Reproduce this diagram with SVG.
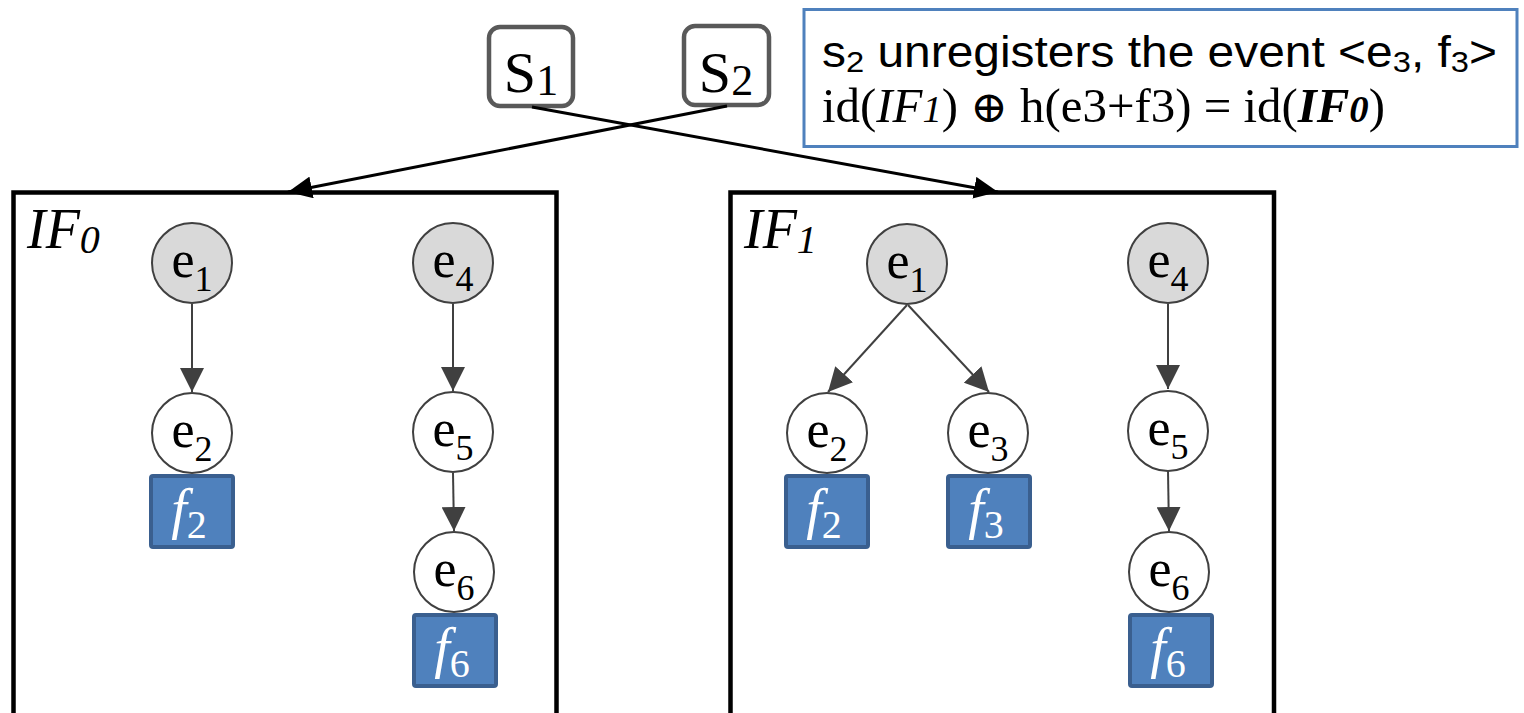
<svg xmlns="http://www.w3.org/2000/svg" width="1524" height="713" viewBox="0 0 1524 713">
<style>
.frame{fill:none;stroke:#000;stroke-width:4.5}
.sbox{fill:#fff;stroke:#595959;stroke-width:4.5}
.ev{stroke:#404040;stroke-width:2}
.g{fill:#d9d9d9}
.w{fill:#fff}
.fb{fill:#4f81bd;stroke:#3a5f8f;stroke-width:4}
.et{font-family:"Liberation Serif","Times New Roman",serif;font-size:52px;fill:#000;text-anchor:middle}
.sub{font-size:36px}
.ft{font-family:"Liberation Serif","Times New Roman",serif;font-size:56px;fill:#fff;text-anchor:middle}
.ft .f{font-style:italic}
.ft .n{font-size:40px}
.lbl{font-family:"Liberation Serif","Times New Roman",serif;font-size:56px;font-style:italic;fill:#000}
.st{font-family:"Liberation Serif","Times New Roman",serif;font-size:58px;fill:#000;text-anchor:middle}
.c1{stroke:#000;stroke-width:3;fill:none}
.c2{stroke:#404040;stroke-width:2;fill:none}
</style>
<defs>
<marker id="ab" markerUnits="userSpaceOnUse" markerWidth="26" markerHeight="22" refX="24" refY="11" orient="auto"><path d="M0,0 L24,11 L0,22 z" fill="#000"/></marker>
<marker id="ag" markerUnits="userSpaceOnUse" markerWidth="26" markerHeight="24" refX="24" refY="12" orient="auto"><path d="M0,0 L24,12 L0,24 z" fill="#404040"/></marker>
</defs>

<g id="IF0">
<path class="frame" d="M13.5,720 V192.5 H556.5 V720"/>
<text class="lbl" x="27" y="248">IF<tspan font-size="40px" dy="5">0</tspan></text>
</g>
<g id="IF1">
<path class="frame" d="M730.5,720 V192.5 H1274 V720"/>
<text class="lbl" x="744" y="248">IF<tspan font-size="40px" dy="5">1</tspan></text>
</g>

<g id="note">
<rect x="804" y="9.5" width="713" height="137" fill="#fff" stroke="#4f81bd" stroke-width="3"/>
<text x="822" y="67" font-family="'Liberation Sans',Arial,sans-serif" font-size="44px" textLength="675" lengthAdjust="spacingAndGlyphs">s<tspan font-size="30px" dy="5">2</tspan><tspan dy="-5"> unregisters the event &lt;e</tspan><tspan font-size="30px" dy="5">3</tspan><tspan dy="-5">, f</tspan><tspan font-size="30px" dy="5">3</tspan><tspan dy="-5">&gt;</tspan></text>
<text x="822" y="122" font-family="'Liberation Serif','DejaVu Serif',serif" font-size="48px" textLength="563" lengthAdjust="spacingAndGlyphs">id(<tspan font-style="italic">IF</tspan><tspan font-style="italic" font-size="38px">1</tspan>) <tspan font-family="'DejaVu Serif',serif" font-size="44px">⊕</tspan> h(e3+f3) = id(<tspan font-style="italic" font-weight="bold">IF</tspan><tspan font-style="italic" font-weight="bold" font-size="38px">0</tspan>)</text>
</g>

<g id="S1">
<rect class="sbox" x="489" y="27" width="84" height="79" rx="11"/>
<text class="st" x="531" y="92">S<tspan font-size="44px" dy="3">1</tspan></text>
</g>
<g id="S2">
<rect class="sbox" x="684" y="26" width="85" height="79" rx="11"/>
<text class="st" x="726" y="92">S<tspan font-size="44px" dy="3">2</tspan></text>
</g>

<g id="connectors">
<line class="c1" x1="532" y1="107" x2="998" y2="192" marker-end="url(#ab)"/>
<line class="c1" x1="727" y1="106" x2="288" y2="192" marker-end="url(#ab)"/>
<line class="c2" x1="192" y1="304" x2="192" y2="392" marker-end="url(#ag)"/>
<line class="c2" x1="453" y1="304" x2="453" y2="391" marker-end="url(#ag)"/>
<line class="c2" x1="453" y1="473" x2="454" y2="531" marker-end="url(#ag)"/>
<line class="c2" x1="907" y1="305" x2="828" y2="392" marker-end="url(#ag)"/>
<line class="c2" x1="908" y1="305" x2="989" y2="392" marker-end="url(#ag)"/>
<line class="c2" x1="1168" y1="304" x2="1168" y2="389" marker-end="url(#ag)"/>
<line class="c2" x1="1168" y1="471" x2="1169" y2="531" marker-end="url(#ag)"/>
</g>

<g id="IF0-e1"><circle class="ev g" cx="192" cy="263" r="40"/><text class="et" x="192" y="277">e<tspan class="sub" dy="14">1</tspan></text></g>
<g id="IF0-e4"><circle class="ev g" cx="453" cy="263" r="40"/><text class="et" x="453" y="277">e<tspan class="sub" dy="14">4</tspan></text></g>
<g id="IF0-e2"><circle class="ev w" cx="192" cy="433" r="40"/><text class="et" x="192" y="447">e<tspan class="sub" dy="14">2</tspan></text></g>
<g id="IF0-e5"><circle class="ev w" cx="453" cy="432" r="40"/><text class="et" x="453" y="446">e<tspan class="sub" dy="14">5</tspan></text></g>
<g id="IF0-e6"><circle class="ev w" cx="454" cy="572" r="40"/><text class="et" x="454" y="586">e<tspan class="sub" dy="14">6</tspan></text></g>
<g id="IF0-f2"><rect class="fb" x="151" y="476" width="82" height="71" rx="2"/><text class="ft" x="189" y="528"><tspan class="f">f</tspan><tspan class="n" dy="10">2</tspan></text></g>
<g id="IF0-f6"><rect class="fb" x="414" y="615" width="82" height="71" rx="2"/><text class="ft" x="452" y="667"><tspan class="f">f</tspan><tspan class="n" dy="10">6</tspan></text></g>

<g id="IF1-e1"><circle class="ev g" cx="907" cy="264" r="40"/><text class="et" x="907" y="278">e<tspan class="sub" dy="14">1</tspan></text></g>
<g id="IF1-e4"><circle class="ev g" cx="1168" cy="263" r="40"/><text class="et" x="1168" y="277">e<tspan class="sub" dy="14">4</tspan></text></g>
<g id="IF1-e2"><circle class="ev w" cx="827" cy="433" r="40"/><text class="et" x="827" y="447">e<tspan class="sub" dy="14">2</tspan></text></g>
<g id="IF1-e3"><circle class="ev w" cx="988" cy="433" r="40"/><text class="et" x="988" y="447">e<tspan class="sub" dy="14">3</tspan></text></g>
<g id="IF1-e5"><circle class="ev w" cx="1168" cy="431" r="40"/><text class="et" x="1168" y="445">e<tspan class="sub" dy="14">5</tspan></text></g>
<g id="IF1-e6"><circle class="ev w" cx="1169" cy="572" r="40"/><text class="et" x="1169" y="586">e<tspan class="sub" dy="14">6</tspan></text></g>
<g id="IF1-f2"><rect class="fb" x="786" y="476" width="82" height="71" rx="2"/><text class="ft" x="824" y="528"><tspan class="f">f</tspan><tspan class="n" dy="10">2</tspan></text></g>
<g id="IF1-f3"><rect class="fb" x="948" y="476" width="82" height="71" rx="2"/><text class="ft" x="986" y="528"><tspan class="f">f</tspan><tspan class="n" dy="10">3</tspan></text></g>
<g id="IF1-f6"><rect class="fb" x="1130" y="615" width="82" height="71" rx="2"/><text class="ft" x="1168" y="667"><tspan class="f">f</tspan><tspan class="n" dy="10">6</tspan></text></g>
</svg>
